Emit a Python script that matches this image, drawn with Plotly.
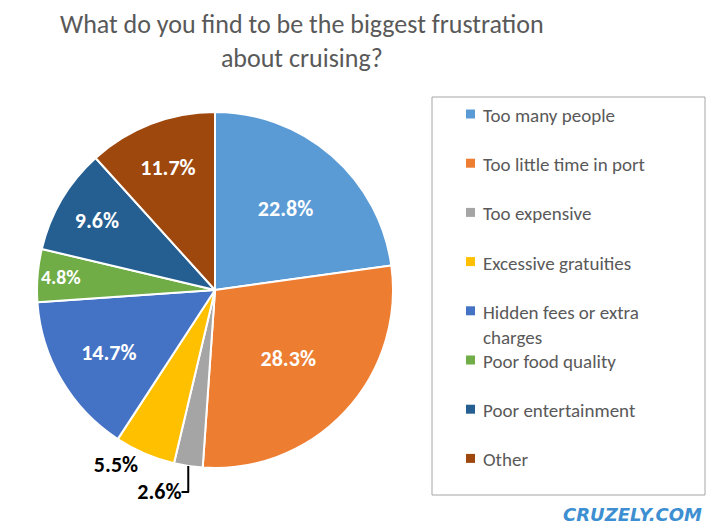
import plotly.graph_objects as go

labels = ["Too many people", "Too little time in port", "Too expensive", "Excessive gratuities",
          "Hidden fees or extra charges", "Poor food quality", "Poor entertainment", "Other"]
legend_text = ["Too many people", "Too little time in port", "Too expensive", "Excessive gratuities",
               "Hidden fees or extra<br>charges", "Poor food quality", "Poor entertainment", "Other"]
values = [22.8, 28.3, 2.6, 5.5, 14.7, 4.8, 9.6, 11.7]
colors = ["#5B9BD5", "#ED7D31", "#A5A5A5", "#FFC000", "#4472C4", "#70AD47", "#255E91", "#9E480E"]
positions = ["inside", "inside", "outside", "outside", "inside", "inside", "inside", "inside"]
text_colors = ["white", "white", "black", "black", "white", "white", "white", "white"]

W, H = 717, 530
OX, OY = -8, -8  # page offset correction

def px(x):
    return (x + OX) / W

def py(y):
    return 1 - (y + OY) / H

fig = go.Figure(go.Pie(
    labels=labels, values=values, sort=False, direction="clockwise", rotation=0,
    marker=dict(colors=colors, line=dict(color="white", width=2)),
    texttemplate="<b>%{value:.1f}%</b>", textposition=positions,
    textfont=dict(family="Calibri, Carlito, Open Sans, sans-serif", size=22, color=text_colors),
    insidetextorientation="horizontal", showlegend=False,
    domain=dict(x=[px(37), px(393)], y=[py(468), py(112)]),
))

# legend box drawn by hand to match Excel spacing
fig.add_shape(type="rect", xref="paper", yref="paper", x0=px(432), x1=px(705),
              y0=py(495), y1=py(97), line=dict(color="#A6A6A6", width=1))
for i, (t, c) in enumerate(zip(legend_text, colors)):
    yc = 114 + i * 49.2
    fig.add_shape(type="rect", xref="paper", yref="paper", x0=px(466), x1=px(475),
                  y0=py(yc + 4.5), y1=py(yc - 4.5), fillcolor=c, line_width=0)
    fig.add_annotation(xref="paper", yref="paper", x=px(481), y=py(yc - 12),
                       text=t, showarrow=False, xanchor="left", yanchor="top", align="left",
                       font=dict(family="Calibri, Carlito, Open Sans, sans-serif", size=19, color="#595959"))

fig.add_annotation(xref="paper", yref="paper", x=px(302), y=py(6),
                   text="What do you find to be the biggest frustration<br>about cruising?",
                   showarrow=False, xanchor="center", yanchor="top",
                   font=dict(family="Calibri, Carlito, Open Sans, sans-serif", size=26, color="#595959"))
fig.add_annotation(xref="paper", yref="paper", x=px(704), y=py(502), text="<b><i>CRUZELY.COM</i></b>",
                   showarrow=False, xanchor="right", yanchor="top",
                   font=dict(family="DejaVu Sans, sans-serif", size=18, color="#3D8FD1"))

fig.update_layout(width=W, height=H, margin=dict(l=0, r=0, t=0, b=0),
                  paper_bgcolor="white", plot_bgcolor="white")
fig.write_html("out.html")
